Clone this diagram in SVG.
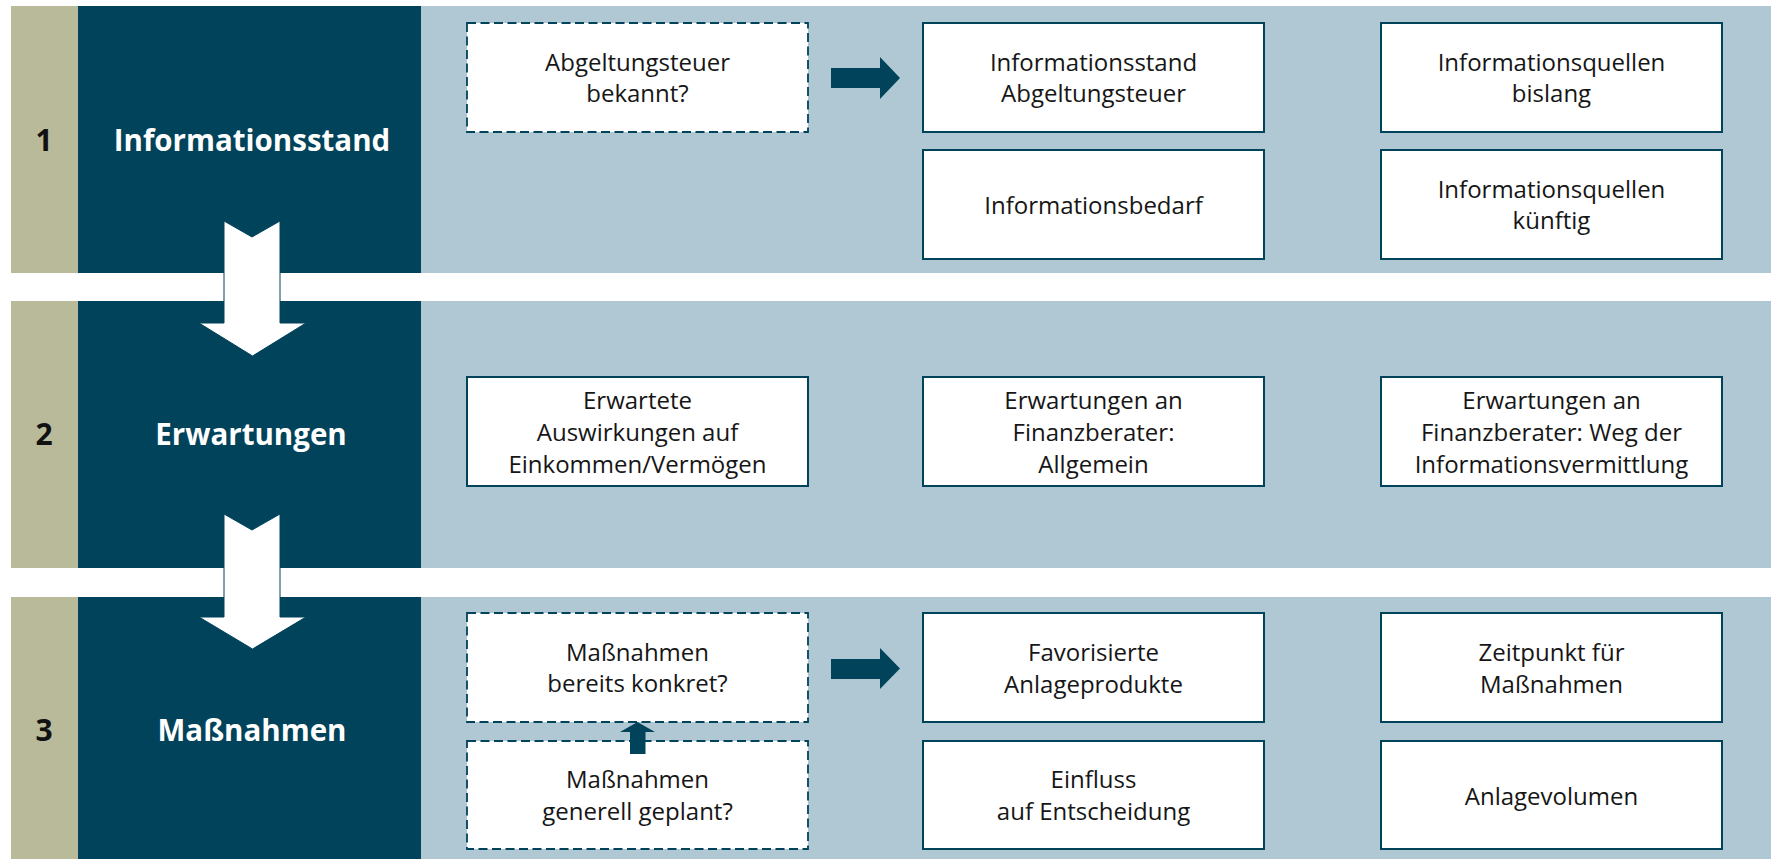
<svg xmlns="http://www.w3.org/2000/svg" width="1771" height="859" viewBox="0 0 1771 859">
  <style>
    .olive { fill: #b9ba9a; }
    .dark { fill: #01435a; }
    .light { fill: #afc8d3; }
    .num { font-family: "Open Sans", "Liberation Sans", sans-serif; font-weight: 700; font-size: 30px; fill: #111; text-anchor: middle; }
    .title { font-family: "Open Sans", "Liberation Sans", sans-serif; font-weight: 700; font-size: 29.5px; fill: #ffffff; text-anchor: middle; }
    .box { fill: #ffffff; stroke: #01435a; stroke-width: 2; }
    .dbox { fill: #ffffff; stroke: #01435a; stroke-width: 1.8; stroke-dasharray: 9 4.5; }
    .lbl { font-family: "Open Sans", "Liberation Sans", sans-serif; font-weight: 400; font-size: 24px; fill: #161616; text-anchor: middle; }
    .warrow { fill: #ffffff; stroke: #01435a; stroke-width: 1; }
    .darrow { fill: #01435a; }
  </style>
  <rect width="1771" height="859" fill="#ffffff"/>

  <g id="band1">
    <rect class="olive" x="11" y="6" width="67" height="267"/>
    <rect class="dark" x="78" y="6" width="343" height="267"/>
    <rect class="light" x="421" y="6" width="1350" height="267"/>
    <text class="num" x="44" y="151">1</text>
    <text class="title" x="252" y="151">Informationsstand</text>
  </g>
  <g id="band2">
    <rect class="olive" x="11" y="301" width="67" height="267"/>
    <rect class="dark" x="78" y="301" width="343" height="267"/>
    <rect class="light" x="421" y="301" width="1350" height="267"/>
    <text class="num" x="44" y="445">2</text>
    <text class="title" x="251" y="445">Erwartungen</text>
  </g>
  <g id="band3">
    <rect class="olive" x="11" y="597" width="67" height="262"/>
    <rect class="dark" x="78" y="597" width="343" height="262"/>
    <rect class="light" x="421" y="597" width="1350" height="262"/>
    <text class="num" x="44" y="741">3</text>
    <text class="title" x="252" y="741">Maßnahmen</text>
  </g>

  <g id="n-abgeltungsteuer">
    <rect class="dbox" x="467" y="23" width="341" height="109"/>
    <text class="lbl" x="637.5" y="71">Abgeltungsteuer</text>
    <text class="lbl" x="637.5" y="102">bekannt?</text>
  </g>
  <g id="n-infostand">
    <rect class="box" x="923" y="23" width="341" height="109"/>
    <text class="lbl" x="1093.5" y="71">Informationsstand</text>
    <text class="lbl" x="1093.5" y="102">Abgeltungsteuer</text>
  </g>
  <g id="n-infobedarf">
    <rect class="box" x="923" y="150" width="341" height="109"/>
    <text class="lbl" x="1093.5" y="214">Informationsbedarf</text>
  </g>
  <g id="n-quellen-bislang">
    <rect class="box" x="1381" y="23" width="341" height="109"/>
    <text class="lbl" x="1551.5" y="71">Informationsquellen</text>
    <text class="lbl" x="1551.5" y="102">bislang</text>
  </g>
  <g id="n-quellen-kuenftig">
    <rect class="box" x="1381" y="150" width="341" height="109"/>
    <text class="lbl" x="1551.5" y="198">Informationsquellen</text>
    <text class="lbl" x="1551.5" y="229">künftig</text>
  </g>

  <g id="n-auswirkungen">
    <rect class="box" x="467" y="377" width="341" height="109"/>
    <text class="lbl" x="637.5" y="409">Erwartete</text>
    <text class="lbl" x="637.5" y="441">Auswirkungen auf</text>
    <text class="lbl" x="637.5" y="473">Einkommen/Vermögen</text>
  </g>
  <g id="n-berater-allgemein">
    <rect class="box" x="923" y="377" width="341" height="109"/>
    <text class="lbl" x="1093.5" y="409">Erwartungen an</text>
    <text class="lbl" x="1093.5" y="441">Finanzberater:</text>
    <text class="lbl" x="1093.5" y="473">Allgemein</text>
  </g>
  <g id="n-berater-weg">
    <rect class="box" x="1381" y="377" width="341" height="109"/>
    <text class="lbl" x="1551.5" y="409">Erwartungen an</text>
    <text class="lbl" x="1551.5" y="441">Finanzberater: Weg der</text>
    <text class="lbl" x="1551.5" y="473">Informationsvermittlung</text>
  </g>

  <g id="n-massnahmen-konkret">
    <rect class="dbox" x="467" y="613" width="341" height="109"/>
    <text class="lbl" x="637.5" y="661">Maßnahmen</text>
    <text class="lbl" x="637.5" y="692">bereits konkret?</text>
  </g>
  <g id="n-massnahmen-geplant">
    <rect class="dbox" x="467" y="741" width="341" height="108"/>
    <text class="lbl" x="637.5" y="788">Maßnahmen</text>
    <text class="lbl" x="637.5" y="820">generell geplant?</text>
  </g>
  <g id="n-anlageprodukte">
    <rect class="box" x="923" y="613" width="341" height="109"/>
    <text class="lbl" x="1093.5" y="661">Favorisierte</text>
    <text class="lbl" x="1093.5" y="693">Anlageprodukte</text>
  </g>
  <g id="n-einfluss">
    <rect class="box" x="923" y="741" width="341" height="108"/>
    <text class="lbl" x="1093.5" y="788">Einfluss</text>
    <text class="lbl" x="1093.5" y="820">auf Entscheidung</text>
  </g>
  <g id="n-zeitpunkt">
    <rect class="box" x="1381" y="613" width="341" height="109"/>
    <text class="lbl" x="1551.5" y="661">Zeitpunkt für</text>
    <text class="lbl" x="1551.5" y="693">Maßnahmen</text>
  </g>
  <g id="n-anlagevolumen">
    <rect class="box" x="1381" y="741" width="341" height="108"/>
    <text class="lbl" x="1551.5" y="805">Anlagevolumen</text>
  </g>

  <g id="connectors">
    <polygon class="warrow" points="224,221 252,237 280,221 280,323 306,323 252.5,356 199,323 224,323"/>
    <polygon class="warrow" points="224,514 252,530 280,514 280,617 306,617 252.5,649 199,617 224,617"/>
    <polygon class="darrow" points="831,68 880,68 880,57 900,78 880,99 880,88 831,88"/>
    <polygon class="darrow" points="831,659 880,659 880,648 900,668.5 880,689 880,679 831,679"/>
    <polygon class="darrow" points="630,754 630,732 620,732 637.5,722 655,732 645.5,732 645.5,754"/>
  </g>
</svg>
